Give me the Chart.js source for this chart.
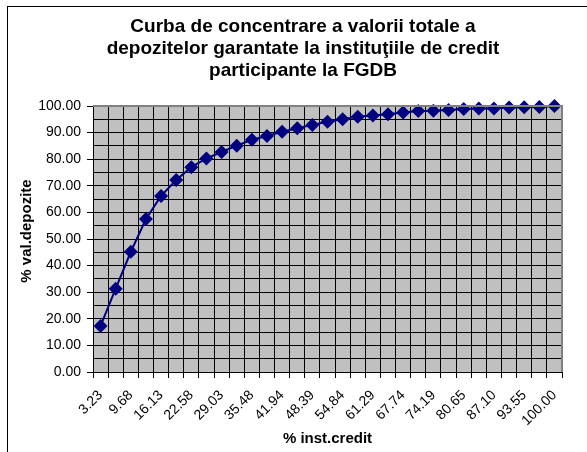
<!DOCTYPE html>
<html>
<head>
<meta charset="utf-8">
<script src="https://cdn.jsdelivr.net/npm/chart.js@4"></script>
<style>
    html, body { margin: 0; padding: 0; background: #fff; }
    #wrap { position: relative; width: 587px; height: 452px; overflow: hidden; }
    #frame { position: absolute; left: 7px; top: 6px; width: 620px; height: 500px;
             border-left: 1px solid #000; border-top: 1px solid #000; }
    canvas { position: absolute; left: 0; top: 0; }
</style>
</head>
<body>
<div id="wrap">
    <div id="frame"></div>
    <canvas id="chart" width="587" height="452"></canvas>
</div>
<script>
// % of credit institutions (x categories)
const instCredit = [
    '3.23', '6.45', '9.68', '12.90', '16.13', '19.35', '22.58', '25.81',
    '29.03', '32.26', '35.48', '38.71', '41.94', '45.16', '48.39', '51.61',
    '54.84', '58.06', '61.29', '64.52', '67.74', '70.97', '74.19', '77.42',
    '80.65', '83.87', '87.10', '90.32', '93.55', '96.77', '100.00'
];

// cumulative % of guaranteed deposits
const valDepozite = [
    17.3, 31.3, 45.2, 57.5, 66.2, 72.2, 77.0, 80.3, 82.7, 85.1,
    87.3, 88.7, 90.3, 91.6, 92.9, 94.1, 95.0, 96.0, 96.4, 96.9,
    97.6, 98.1, 98.2, 98.5, 98.9, 99.1, 99.1, 99.4, 99.5, 99.6, 100.0
];

const titleLines = [
    'Curba de concentrare a valorii totale a',
    'depozitelor garantate la instituţiile de credit',
    'participante la FGDB'
];
const yTitle = '% val.depozite';
const xTitle = '% inst.credit';

const FONT = "'Liberation Sans', Arial, sans-serif";

// grey plot background, grey frame, chart title and y title (placed by hand,
// the Excel title is not centred on the canvas)
const plotBack = {
    id: 'plotBack',
    beforeDraw(chart) {
        const { ctx, chartArea: a } = chart;
        ctx.save();
        ctx.fillStyle = '#c0c0c0';
        ctx.fillRect(a.left, a.top, a.right - a.left, a.bottom - a.top);
        ctx.restore();
    },
    afterDatasetsDraw(chart) {
        const { ctx, chartArea: a } = chart;
        ctx.save();
        ctx.strokeStyle = '#808080';
        ctx.lineWidth = 2;
        ctx.beginPath();
        ctx.moveTo(a.left, a.top);
        ctx.lineTo(a.right, a.top);
        ctx.lineTo(a.right, a.bottom);
        ctx.stroke();
        ctx.restore();
    },
    afterDraw(chart) {
        const { ctx } = chart;
        ctx.save();
        ctx.fillStyle = '#000';
        ctx.textAlign = 'center';
        ctx.textBaseline = 'middle';

        ctx.font = 'bold 19px ' + FONT;
        titleLines.forEach((line, i) => {
            ctx.fillText(line, 303, 27 + i * 22);
        });

        ctx.translate(27, 231);
        ctx.rotate(-Math.PI / 2);
        ctx.font = 'bold 15px ' + FONT;
        ctx.fillText(yTitle, 0, 0);
        ctx.restore();
    }
};

new Chart(document.getElementById('chart').getContext('2d'), {
    type: 'line',
    data: {
        labels: instCredit,
        datasets: [{
            data: valDepozite,
            borderColor: '#000080',
            backgroundColor: '#000080',
            borderWidth: 2,
            pointStyle: 'rectRot',
            pointRadius: 7,
            pointBorderWidth: 0,
            tension: 0,
            clip: false
        }]
    },
    options: {
        responsive: false,
        animation: false,
        layout: { padding: { left: 10, top: 106, right: 25, bottom: 4 } },
        plugins: {
            legend: { display: false },
            tooltip: { enabled: false },
            title: { display: false }
        },
        scales: {
            x: {
                offset: true,
                afterFit(scale) { scale.height = 76; },
                grid: {
                    offset: true,
                    color: '#000',
                    lineWidth: 1,
                    drawTicks: true,
                    tickLength: 6,
                    tickColor: '#000'
                },
                border: { color: '#000', width: 1 },
                ticks: {
                    autoSkip: false,
                    maxRotation: 45,
                    minRotation: 45,
                    color: '#000',
                    padding: 9,
                    font: { family: FONT, size: 14 },
                    callback(value, index) {
                        return index % 2 === 0 ? this.getLabelForValue(value) : '';
                    }
                },
                title: {
                    display: true,
                    text: xTitle,
                    color: '#000',
                    font: { family: FONT, size: 15, weight: 'bold' },
                    padding: { top: 0, bottom: 0 }
                }
            },
            y: {
                min: 0,
                max: 100,
                afterFit(scale) { scale.width = 83; },
                grid: {
                    color: '#000',
                    lineWidth: 1,
                    tickLength: 6,
                    tickColor(ctx) {
                        return ctx.tick && ctx.tick.value % 10 === 0 ? '#000' : 'rgba(0,0,0,0)';
                    }
                },
                border: { color: '#000', width: 1 },
                ticks: {
                    stepSize: 5,
                    autoSkip: false,
                    color: '#000',
                    padding: 6,
                    font: { family: FONT, size: 14 },
                    callback(value) {
                        return value % 10 === 0 ? value.toFixed(2) : '';
                    }
                },
                title: { display: false }
            }
        }
    },
    plugins: [plotBack]
});
</script>
</body>
</html>
